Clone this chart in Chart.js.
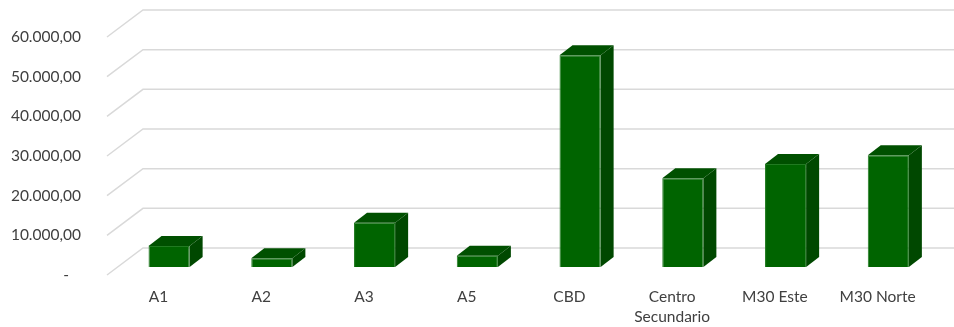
<!DOCTYPE html>
<html>
<head>
<meta charset="utf-8">
<script src="https://cdn.jsdelivr.net/npm/chart.js@4"></script>
<style>
  html, body { margin: 0; padding: 0; background: #fff; }
  #wrap { width: 954px; height: 327px; }
</style>
</head>
<body>
<div id="wrap"><canvas id="myChart" width="954" height="327"></canvas></div>
<script>
// data
const categories = ['A1', 'A2', 'A3', 'A5', 'CBD', ['Centro', 'Secundario'], 'M30 Este', 'M30 Norte'];
const values = [5300, 2200, 11150, 2850, 53400, 22350, 25950, 28200];
const yTicks = [0, 10000, 20000, 30000, 40000, 50000, 60000];

// fake 3d: wall depth and bar position inside it
const wall = { dx: 36, dy: -27 };
const barShift = { dx: 10.7, dy: -8 };
const barDepth = { dx: 13, dy: -10 };

function fmt(v) {
    if (v === 0) return '-   ';
    let s = String(Math.round(v));
    s = s.replace(/\B(?=(\d{3})+(?!\d))/g, '.');
    return s + ',00';
}

const fake3d = {
    id: 'fake3d',
    beforeDatasetsDraw(chart) {
        const ctx = chart.ctx;
        const y = chart.scales.y;
        const area = chart.chartArea;
        ctx.save();
        ctx.strokeStyle = '#d9d9d9';
        ctx.lineWidth = 1.5;
        yTicks.forEach((t) => {
            const py = y.getPixelForValue(t);
            ctx.beginPath();
            ctx.moveTo(area.left, py);
            ctx.lineTo(area.left + wall.dx, py + wall.dy);
            ctx.lineTo(chart.width, py + wall.dy);
            ctx.stroke();
        });
        ctx.restore();
        ctx.save();
        ctx.translate(barShift.dx, barShift.dy);
    },
    afterDatasetsDraw(chart) {
        const ctx = chart.ctx;
        const meta = chart.getDatasetMeta(0);
        meta.data.forEach((bar) => {
            const l = bar.x - bar.width / 2;
            const r = bar.x + bar.width / 2;
            const top = bar.y;
            const bot = bar.base;
            // side
            ctx.fillStyle = '#004800';
            ctx.beginPath();
            ctx.moveTo(r, top);
            ctx.lineTo(r + barDepth.dx, top + barDepth.dy);
            ctx.lineTo(r + barDepth.dx, bot + barDepth.dy);
            ctx.lineTo(r, bot);
            ctx.closePath();
            ctx.fill();
            // top
            ctx.fillStyle = '#005000';
            ctx.beginPath();
            ctx.moveTo(l, top);
            ctx.lineTo(l + barDepth.dx, top + barDepth.dy);
            ctx.lineTo(r + barDepth.dx, top + barDepth.dy);
            ctx.lineTo(r, top);
            ctx.closePath();
            ctx.fill();
        });
        ctx.restore();
    }
};

const data = {
    labels: categories,
    datasets: [{
        data: values,
        backgroundColor: '#006400',
        borderColor: '#217a21',
        borderWidth: 1,
        barPercentage: 0.4,
        categoryPercentage: 1
    }]
};

const config = {
    type: 'bar',
    data: data,
    plugins: [fake3d],
    options: {
        responsive: false,
        animation: false,
        events: [],
        layout: { padding: { top: 37, right: 25, bottom: 0, left: 0 } },
        plugins: { legend: { display: false }, tooltip: { enabled: false } },
        scales: {
            x: {
                grid: { display: false, drawTicks: false },
                border: { display: false },
                ticks: {
                    color: '#404040',
                    font: { family: 'Lato', size: 15.5, lineHeight: 1.3 },
                    padding: 12,
                    maxRotation: 0,
                    autoSkip: false
                },
                afterFit(scale) { scale.height = 52; }
            },
            y: {
                min: 0,
                max: 60000,
                grid: { display: false, drawTicks: false },
                border: { display: false },
                afterBuildTicks(scale) { scale.ticks = yTicks.map((v) => ({ value: v })); },
                ticks: {
                    color: '#404040',
                    font: { family: 'Lato', size: 15.5 },
                    padding: 26,
                    callback: (v) => fmt(v)
                },
                afterFit(scale) { scale.width = 107; }
            }
        }
    }
};

const myChart = new Chart(document.getElementById('myChart'), config);
</script>
</body>
</html>
